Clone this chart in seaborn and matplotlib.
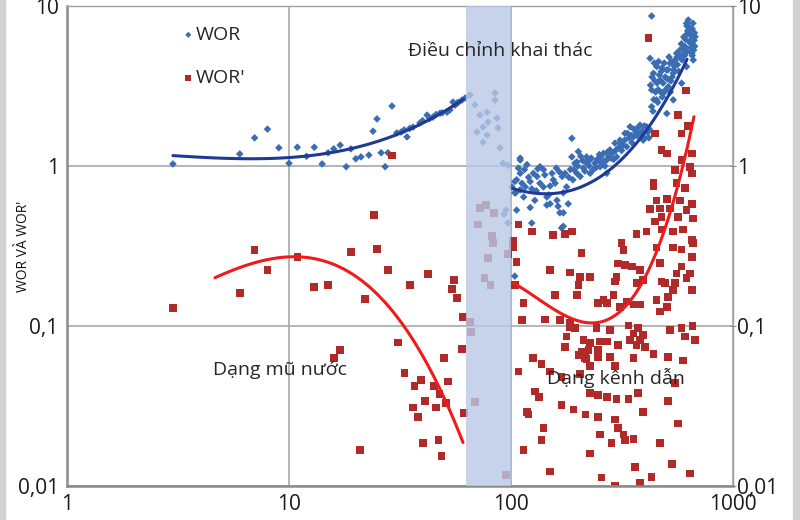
import numpy as np
import pandas as pd
import matplotlib
matplotlib.use('Agg')
import matplotlib.pyplot as plt
from matplotlib.ticker import FuncFormatter, FixedLocator, NullLocator
from matplotlib.patches import Rectangle
import seaborn as sns

# WOR points (blue diamonds)
wor_x = [3.0, 6.0, 7.0, 8.0, 9.0, 10.0, 10.9, 12.0, 13.0, 14.1, 15.0, 15.9, 17.0, 18.1, 19.0,
         20.0, 21.1, 22.9, 23.9, 24.9, 26.0, 27.1, 27.9, 29.1, 30.6, 32.0, 34.0, 36.2, 38.9,
         41.9, 44.5, 47.9, 51.5, 53.1, 54.8, 57.1, 60.1, 33, 35, 40, 43, 46, 49, 56, 58,
         62.1, 65.4, 68.8, 72.5, 78.0, 84.7, 84.7, 78.8, 74.8, 86.5, 70.3, 78.0, 87.4, 74.8,
         89.2, 92.0, 96.9, 95, 93, 97,
         110, 108, 106, 101, 110, 104,
         104, 110, 110, 116, 122, 126, 128, 135, 140, 145, 153, 155, 161, 166, 169, 178, 181,
         188, 188, 194, 201, 205, 212, 219, 227, 239, 252, 261, 270, 279, 294, 310, 326, 344,
         362, 381, 394, 408, 430, 430, 438, 453, 469, 486, 503, 511, 520, 538, 557, 577, 608,
         618, 640, 652, 662, 675, 430, 629, 423, 453, 503, 538, 587, 618, 652,
         106, 114, 131, 150, 163, 175, 198, 227, 252, 270, 299, 332, 356, 381,
         122, 145, 172, 172, 124, 104,
         140, 160, 170, 185, 190, 200, 210, 215, 225, 235, 245, 255, 265, 275, 285, 290, 305,
         315, 320, 340, 350, 370, 390, 400, 420, 440, 445, 460, 475, 480, 495, 510, 525, 530,
         545, 560, 570, 590, 600, 610, 625, 635, 645, 655, 665, 670, 120, 115, 130, 135, 150,
         105, 112,
         425, 432, 436, 442, 448, 455, 458, 462, 466, 472, 478, 484, 490, 498, 506, 515, 522,
         532, 540, 550, 562, 575, 585, 595, 605, 615, 622, 632, 640, 648, 655, 660, 668, 672,
         620, 600,
         282, 296, 312, 325, 335, 348, 358, 366, 375, 386, 398, 412, 418,
         118, 124, 132, 142, 148, 158, 165, 172, 182, 192, 198, 206, 218, 230, 242, 250, 262, 272]
wor_y = [1.03, 1.19, 1.50, 1.70, 1.30, 1.04, 1.31, 1.15, 1.31, 1.03, 1.21, 1.28, 1.35, 0.99, 1.28,
         1.11, 1.14, 1.17, 1.65, 1.97, 1.21, 0.99, 1.21, 2.37, 1.61, 1.63, 1.52, 1.75, 1.86,
         2.08, 2.02, 2.14, 2.17, 2.24, 2.51, 2.48, 2.58, 1.68, 1.72, 1.92, 1.98, 2.10, 2.15, 2.40, 2.50,
         2.66, 2.78, 2.41, 2.08, 2.17, 2.86, 2.58, 1.88, 1.75, 1.99, 1.63, 1.56, 1.73, 1.41,
         1.30, 1.04, 1.01, 0.53, 0.50, 0.44,
         1.12, 0.97, 0.82, 0.74, 0.71, 0.68,
         0.80, 1.09, 0.90, 0.74, 0.80, 0.90, 0.61, 0.99, 0.74, 0.64, 0.90, 0.82, 0.61, 0.51, 0.41, 0.74, 0.58,
         1.14, 1.49, 1.04, 1.23, 0.86, 0.97, 1.14, 0.90, 1.04, 0.99, 1.20, 0.90, 1.26, 1.39, 1.45, 1.60, 1.76,
         1.68, 1.60, 1.45, 1.76, 2.35, 2.99, 3.80, 4.18, 3.45, 2.85, 3.98, 3.13, 4.38, 3.80, 5.06, 5.31, 5.57,
         7.80, 6.75, 5.84, 4.60, 6.43, 8.66, 8.18, 4.71, 2.59, 2.13, 2.59, 3.29, 4.18, 5.06,
         0.53, 0.64, 0.86, 0.58, 0.56, 0.90, 0.90, 1.09, 1.14, 1.09, 1.14, 1.32, 1.52, 1.80,
         0.55, 0.57, 0.51, 0.42, 0.44, 0.205,
         0.95, 0.97, 0.86, 0.95, 0.82, 1.00, 1.08, 0.93, 1.00, 0.95, 1.10, 1.05, 1.00, 1.15, 1.20, 1.10, 1.30,
         1.25, 1.35, 1.50, 1.40, 1.55, 1.65, 1.50, 1.70, 2.60, 3.40, 3.00, 3.90, 2.70, 3.60, 4.00, 3.40, 4.50,
         4.20, 4.80, 3.90, 4.60, 5.00, 6.20, 7.00, 6.00, 5.50, 7.20, 5.30, 6.80, 0.85, 0.95, 0.70, 0.78, 0.75,
         0.68, 0.78,
         3.2, 3.6, 2.2, 4.4, 2.9, 3.3, 2.5, 4.5, 3.7, 2.9, 4.1, 3.3, 4.4, 3.0, 3.5, 4.8, 2.9,
         3.6, 4.0, 4.6, 4.3, 4.9, 5.8, 5.4, 4.9, 6.6, 5.2, 7.4, 5.9, 6.5, 4.9, 7.8, 6.1, 5.6,
         7.5, 6.4,
         1.12, 1.25, 1.38, 1.45, 1.60, 1.55, 1.70, 1.62, 1.75, 1.58, 1.78, 1.62, 1.50,
         1.02, 0.72, 0.96, 0.88, 0.66, 0.78, 0.92, 0.68, 0.85, 0.95, 1.06, 1.15, 1.05, 1.12, 0.98, 1.18, 1.08, 1.22]

# WOR' points (red squares)
worp_x = [3.0, 6.0, 7.0, 8.0, 10.9, 15.9, 17.0, 13.0, 15.0, 19.0, 22.0, 24.1, 24.9, 27.9, 29.1,
          31.0, 33.1, 35.0, 36.8, 39.3, 36.3, 38.1, 41.1, 42.3, 40.1, 44.9, 45.9, 47.2, 48.7,
          47.6, 49.9, 50.8, 52.0, 54.2, 55.3, 57.0, 60.8, 60.1, 20.9, 61.5,
          72.5, 77.3, 71.0, 83.9, 82.1, 83.0, 78.8, 76.0, 80.9, 96.9, 65.4, 66.0, 68.8, 95.0,
          102, 106, 104, 114, 112, 108, 126, 137, 118, 120, 128, 134, 140, 137, 114, 150,
          150, 184, 198, 158, 142, 166, 184, 205, 201, 227, 208, 321, 304, 326, 350, 381, 394,
          368, 299, 294, 247, 261, 270, 289, 310, 332, 356, 381, 453, 469, 503, 511, 538, 547,
          557, 477, 495, 640, 652, 618, 652, 662, 587, 538, 453, 469, 587,
          184, 194, 243, 279, 338, 374, 356, 394, 381, 344, 520, 587, 658, 608, 675,
          178, 175, 212, 208, 227, 252, 270, 247, 223, 201, 215, 219, 227, 247, 279, 304, 368,
          402, 438, 511, 597, 294, 356, 150, 169, 205, 227, 247, 270, 299, 338, 374, 394, 511,
          547, 567, 169, 191, 217, 247, 294, 304, 321, 326, 356, 284, 252, 469, 227, 362, 530,
          430, 640, 256, 294, 381,
          416, 614, 564, 445, 587, 629, 477, 503, 652, 587, 547, 640, 652, 438, 438, 557, 608,
          453, 503, 577, 652, 469, 423, 520, 618, 445, 477, 567, 662, 477, 538, 597, 652, 408,
          108, 124, 155, 175, 188, 315, 368, 102]
worp_y = [0.130, 0.161, 0.299, 0.224, 0.270, 0.063, 0.071, 0.175, 0.181, 0.290, 0.148, 0.494, 0.303, 0.224, 1.16,
          0.079, 0.051, 0.181, 0.042, 0.046, 0.031, 0.027, 0.034, 0.211, 0.0186, 0.042, 0.031, 0.0194, 0.0154,
          0.0376, 0.063, 0.033, 0.045, 0.170, 0.194, 0.150, 0.114, 0.072, 0.0168, 0.0286,
          0.546, 0.57, 0.43, 0.51, 0.365, 0.33, 0.266, 0.20, 0.181, 0.282, 0.106, 0.092, 0.0335, 0.0117,
          0.313, 0.252, 0.180, 0.139, 0.109, 0.052, 0.063, 0.058, 0.029, 0.028, 0.039, 0.036, 0.023, 0.0194, 0.0168, 0.0123,
          0.224, 0.216, 0.156, 0.156, 0.110, 0.109, 0.104, 0.203, 0.180, 0.203, 0.285, 0.299, 0.246, 0.241, 0.235, 0.224, 0.194,
          0.185, 0.203, 0.190, 0.139, 0.145, 0.139, 0.156, 0.132, 0.142, 0.136, 0.136, 0.145, 0.123, 0.132, 0.152, 0.168, 0.185,
          0.213, 0.190, 0.185, 0.213, 0.168, 0.200, 0.27, 0.33, 0.30, 0.31, 0.31, 0.248, 0.235,
          0.099, 0.097, 0.097, 0.094, 0.101, 0.097, 0.090, 0.088, 0.082, 0.082, 0.094, 0.097, 0.100, 0.086, 0.082,
          0.086, 0.074, 0.082, 0.069, 0.078, 0.080, 0.080, 0.071, 0.071, 0.066, 0.063, 0.062, 0.056, 0.064, 0.064, 0.076, 0.076,
          0.074, 0.067, 0.064, 0.061, 0.056, 0.063, 0.052, 0.048, 0.050, 0.038, 0.037, 0.036, 0.035, 0.035, 0.038, 0.029, 0.034,
          0.044, 0.0246, 0.032, 0.030, 0.028, 0.027, 0.026, 0.023, 0.021, 0.0194, 0.0196, 0.0185, 0.021, 0.0185, 0.016, 0.0132, 0.0137,
          0.0114, 0.012, 0.0113, 0.0101, 0.0105,
          6.3, 2.96, 2.08, 1.60, 1.60, 1.78, 1.26, 1.20, 1.20, 1.09, 0.94, 0.99, 0.90, 0.78, 0.75, 0.78, 0.73,
          0.61, 0.62, 0.61, 0.58, 0.544, 0.54, 0.544, 0.53, 0.449, 0.48, 0.48, 0.47, 0.40, 0.39, 0.40, 0.345, 0.39,
          0.43, 0.39, 0.37, 0.375, 0.39, 0.33, 0.375, 0.34]

# trend lines
wor_fit1_x = [3, 5.6, 10, 15, 21.6, 25.7, 30.6, 36, 43, 50, 61]
wor_fit1_y = [1.15, 1.14, 1.14, 1.17, 1.31, 1.41, 1.61, 1.78, 1.99, 2.2, 2.55]
wor_fit2_x = [102, 135, 179, 234, 300, 381, 469, 537, 621]
wor_fit2_y = [0.71, 0.69, 0.71, 0.79, 0.99, 1.45, 2.34, 3.30, 4.4]
worp_fit1_x = [4.64, 6, 8, 10.9, 15.3, 21.6, 27.6, 34, 43.2, 52, 60.8]
worp_fit1_y = [0.205, 0.23, 0.251, 0.264, 0.251, 0.202, 0.145, 0.090, 0.048, 0.031, 0.020]
worp_fit2_x = [102, 125, 150, 200, 245, 300, 334, 409, 484, 537, 595, 667]
worp_fit2_y = [0.186, 0.155, 0.131, 0.113, 0.107, 0.115, 0.131, 0.202, 0.381, 0.613, 1.14, 1.83]

band = (62.5, 100)
xticks = [1, 10, 100, 1000]
yticks = [0.01, 0.1, 1, 10]
ytick_labels = ['0,01', '0,1', '1', '10']

blue = '#3a6db3'
navy = '#1f3994'
red = '#b02a2a'
red_line = '#f01a1a'


def smooth(xs, ys, deg=3):
    # polynomial trendline in log-log space through the read-off points
    lx, ly = np.log10(xs), np.log10(ys)
    c = np.polyfit(lx, ly, deg)
    gx = np.linspace(lx[0], lx[-1], 80)
    return 10 ** gx, 10 ** np.polyval(c, gx)


def ylab(v, p):
    i = int(np.argmin([abs(np.log10(t) - np.log10(v)) for t in yticks]))
    return ytick_labels[i]


sns.set_style('white')
plt.rcParams['font.family'] = ['Open Sans', 'DejaVu Sans']

fig = plt.figure(figsize=(8, 5.2), dpi=100)
fig.patches.append(Rectangle((0, 0), 5/800, 1, transform=fig.transFigure, color='#d2d2d2', zorder=0))
fig.patches.append(Rectangle((793/800, 0), 7/800, 1, transform=fig.transFigure, color='#d2d2d2', zorder=0))

ax = fig.add_axes([67/800, 34/520, 666/800, 480/520])
ax.set_xscale('log')
ax.set_yscale('log')

df_wor = pd.DataFrame({'x': wor_x, 'y': wor_y})
df_worp = pd.DataFrame({'x': worp_x, 'y': worp_y})

sns.scatterplot(data=df_wor, x='x', y='y', marker='D', s=15, color=blue, edgecolor='none',
                ax=ax, label='WOR', zorder=2)
sns.scatterplot(data=df_worp, x='x', y='y', marker='s', s=30, color=red, edgecolor='none',
                ax=ax, label="WOR'", zorder=2)

for fx, fy, c in [(wor_fit1_x, wor_fit1_y, navy), (wor_fit2_x, wor_fit2_y, navy),
                  (worp_fit1_x, worp_fit1_y, red_line), (worp_fit2_x, worp_fit2_y, red_line)]:
    sx, sy = smooth(fx, fy)
    sns.lineplot(x=sx, y=sy, color=c, lw=2.2, ax=ax, zorder=4, sort=False)

ax.axvspan(band[0], band[1], color='#b8c9e6', alpha=0.8, lw=0, zorder=3)

ax.set_xlim(1, 1000)
ax.set_ylim(0.01, 10)
ax.xaxis.set_major_locator(FixedLocator(xticks))
ax.yaxis.set_major_locator(FixedLocator(yticks))
ax.xaxis.set_minor_locator(NullLocator())
ax.yaxis.set_minor_locator(NullLocator())
ax.xaxis.set_major_formatter(FuncFormatter(lambda v, p: '%d' % round(v)))
ax.yaxis.set_major_formatter(FuncFormatter(ylab))
ax.tick_params(axis='both', length=0, labelsize=15, colors='#1a1a1a', pad=6)
ax.grid(True, color='#a8a8a8', lw=1.2)
for sp in ['left', 'bottom']:
    ax.spines[sp].set_color('#8a8a8a')
    ax.spines[sp].set_linewidth(1.8)
for sp in ['top', 'right']:
    ax.spines[sp].set_color('#a0a0a0')
    ax.spines[sp].set_linewidth(1.0)

# right hand axis with the same labels
ax2 = ax.twinx()
ax2.set_yscale('log')
ax2.set_ylim(0.01, 10)
ax2.yaxis.set_major_locator(FixedLocator(yticks))
ax2.yaxis.set_minor_locator(NullLocator())
ax2.yaxis.set_major_formatter(FuncFormatter(ylab))
ax2.tick_params(axis='y', length=4, direction='inout', color='#909090', labelsize=15,
                labelcolor='#1a1a1a', pad=1)
for sp in ax2.spines.values():
    sp.set_visible(False)

ax.set_xlabel('')
ax.set_ylabel("WOR VÀ WOR'", fontsize=10, color='#111111')
ax.yaxis.set_label_coords(-0.054, 0.5)

ax.text(34.4, 5.2, 'Điều chỉnh khai thác', fontsize=14, va='center', ha='left', zorder=6)
ax.text(4.55, 0.053, 'Dạng mũ nước', fontsize=14, va='center', ha='left', zorder=6)
ax.text(145, 0.047, 'Dạng kênh dẫn', fontsize=14, va='center', ha='left', zorder=6)

leg = ax.legend(loc='upper left', bbox_to_anchor=(0.15, 0.995), frameon=False, fontsize=14,
                labelspacing=1.3, handlelength=0.4, handletextpad=0.2, markerscale=0.8)

fig.savefig('out.png', dpi=100)
